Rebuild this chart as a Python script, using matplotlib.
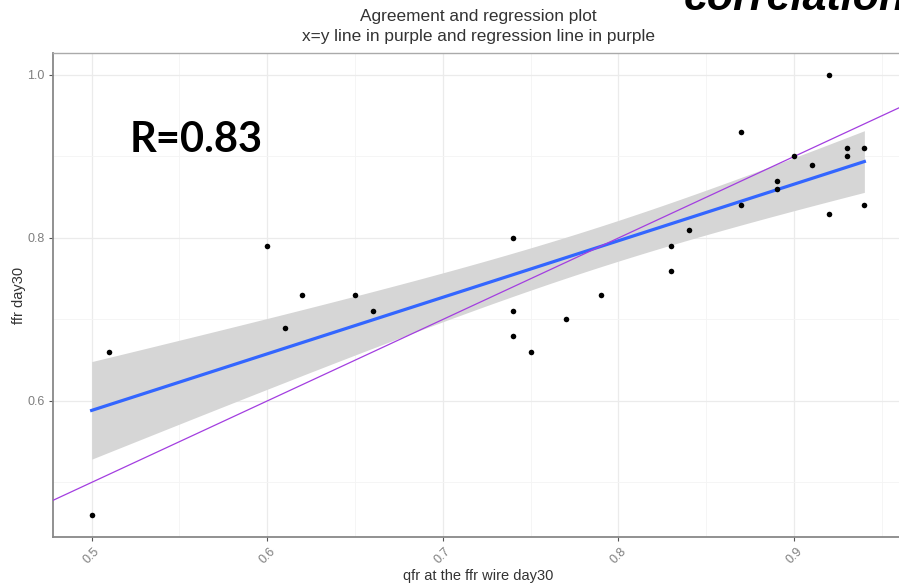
import numpy as np
import matplotlib
matplotlib.use("Agg")
import matplotlib.pyplot as plt

# qfr vs ffr measurements at day 30
qfr = [0.50, 0.51, 0.60, 0.61, 0.62, 0.65, 0.66, 0.74, 0.74, 0.74,
       0.75, 0.77, 0.79, 0.83, 0.83, 0.84, 0.87, 0.87, 0.89, 0.89,
       0.90, 0.91, 0.92, 0.92, 0.93, 0.93, 0.94, 0.94]
ffr = [0.46, 0.66, 0.79, 0.69, 0.73, 0.73, 0.71, 0.80, 0.71, 0.68,
       0.66, 0.70, 0.73, 0.79, 0.76, 0.81, 0.93, 0.84, 0.87, 0.86,
       0.90, 0.89, 1.00, 0.83, 0.91, 0.90, 0.91, 0.84]
x_ticks = [0.5, 0.6, 0.7, 0.8, 0.9]
y_ticks = [0.6, 0.8, 1.0]
r_text = "R=0.83"

x = np.array(qfr)
y = np.array(ffr)
n = len(x)

# linear fit with 95% confidence band (like geom_smooth(method="lm"))
slope, intercept = np.polyfit(x, y, 1)
resid = y - (slope * x + intercept)
s = np.sqrt(np.sum(resid ** 2) / (n - 2))
sxx = np.sum((x - x.mean()) ** 2)
t_crit = 2.0555  # t(0.975, df=26)
xs = np.linspace(x.min(), x.max(), 100)
fit = slope * xs + intercept
se = s * np.sqrt(1 / n + (xs - x.mean()) ** 2 / sxx)

W, H = 899, 585
fig = plt.figure(figsize=(W / 100, H / 100), dpi=100)
ax = fig.add_axes([53 / W, 1 - 537 / H, 850 / W, 484 / H])

font = "Liberation Sans"
grey_txt = "#7f7f7f"

ax.fill_between(xs, fit - t_crit * se, fit + t_crit * se, color="#d6d6d6", lw=0, zorder=2)
ax.plot(xs, fit, color="#3366ff", lw=2.3, zorder=3)
ax.axline((0.5, 0.5), slope=1, color="#a33ee0", lw=0.9, zorder=4)
ax.scatter(x, y, s=16, color="black", zorder=5, linewidths=0)

# ggplot-style expanded limits
xr = x.max() - x.min()
yr = y.max() - y.min()
ax.set_xlim(x.min() - 0.05 * xr, x.max() + 0.05 * xr)
ax.set_ylim(y.min() - 0.05 * yr, y.max() + 0.05 * yr)

ax.set_xticks(x_ticks)
ax.set_yticks(y_ticks)
ax.set_xticks([v + 0.05 for v in x_ticks], minor=True)
ax.set_yticks([0.5, 0.7, 0.9], minor=True)
ax.set_xticklabels([f"{v:.1f}" for v in x_ticks], rotation=45, ha="center", va="top",
                   fontsize=9, color=grey_txt, family=font)
ax.set_yticklabels([f"{v:.1f}" for v in y_ticks], fontsize=9, color=grey_txt, family=font)
ax.tick_params(which="major", length=3, width=0.8, color="#555555", pad=3)
ax.tick_params(which="minor", length=0)

ax.grid(which="major", color="#ebebeb", lw=0.9, zorder=0)
ax.grid(which="minor", color="#f4f4f4", lw=0.6, zorder=0)
ax.set_axisbelow(True)
for side in ["left", "bottom"]:
    ax.spines[side].set_color("#888888")
    ax.spines[side].set_linewidth(1.3)
ax.spines["top"].set_color("#aaaaaa")
ax.spines["top"].set_linewidth(1.0)
ax.spines["right"].set_color("#aaaaaa")

ax.set_xlabel("qfr at the ffr wire day30", fontsize=10.5, family=font, color="#333333", labelpad=2)
ax.set_ylabel("ffr day30", fontsize=10.5, family=font, color="#333333", labelpad=1)

fig.text(478 / W, 1 - 17 / H, "Agreement and regression plot", ha="center", va="center",
         fontsize=12.4, family=font, color="#333333")
fig.text(478 / W, 1 - 36 / H, "x=y line in purple and regression line in purple", ha="center",
         va="center", fontsize=12.4, family=font, color="#333333")

fig.text(130 / W, 1 - 152 / H, r_text, ha="left", va="baseline", fontsize=30,
         family="Lato", weight="bold", color="black")
# slide heading, partly outside the frame
fig.text(684 / W, 1 - 10 / H, "correlation", ha="left", va="baseline", fontsize=31,
         family=font, weight="bold", style="italic", color="black")

fig.savefig("out.png", dpi=100)
